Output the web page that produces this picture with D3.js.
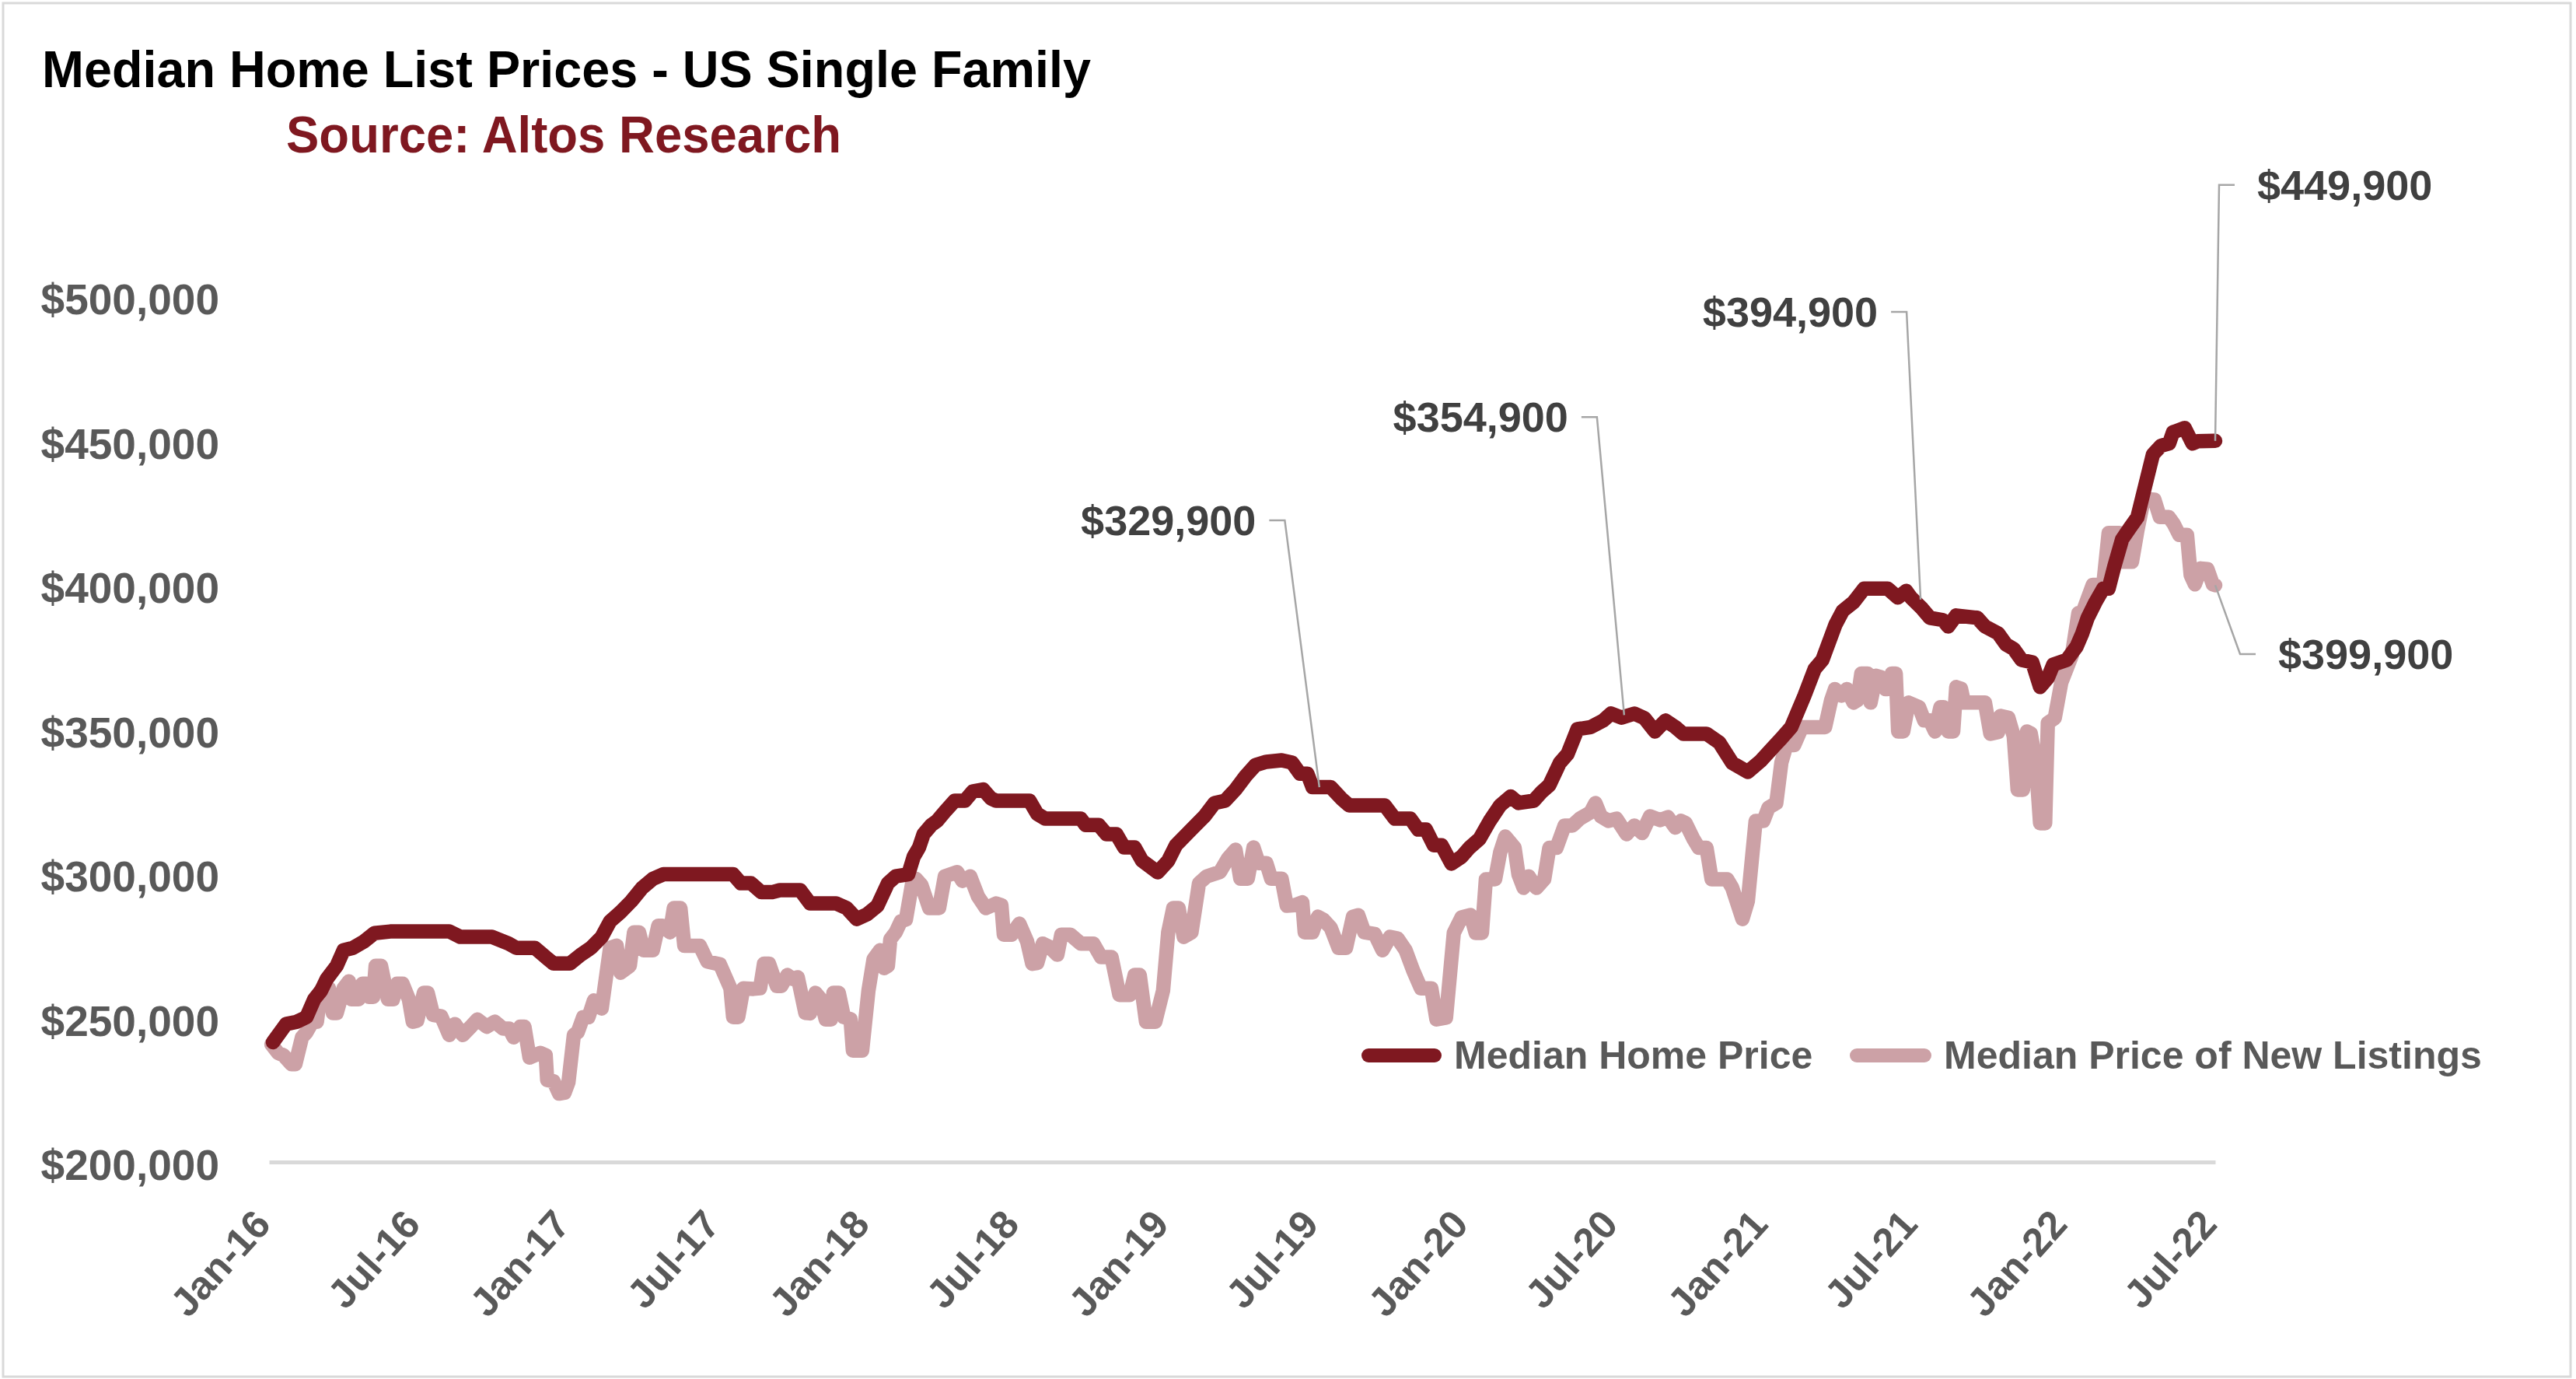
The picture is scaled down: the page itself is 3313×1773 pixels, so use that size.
<!DOCTYPE html>
<html>
<head>
<meta charset="utf-8">
<script src="https://cdn.jsdelivr.net/npm/d3@7"></script>
<style>
  html, body { margin: 0; padding: 0; background: #ffffff; }
  svg { display: block; }
</style>
</head>
<body>
<svg id="chart" width="3313" height="1773"></svg>
<script>
// ---------------- DATA ----------------
const chartTitle = "Median Home List Prices - US Single Family";
const chartSubtitle = "Source: Altos Research";
const seriesNames = ["Median Home Price", "Median Price of New Listings"];
const xTickLabels = ["Jan-16","Jul-16","Jan-17","Jul-17","Jan-18","Jul-18","Jan-19","Jul-19",
                     "Jan-20","Jul-20","Jan-21","Jul-21","Jan-22","Jul-22"];
const yTickValues = [200000, 250000, 300000, 350000, 400000, 450000, 500000];

// [years since Jan 2016, price in $ thousands]
const medianHomePrice = [
[0.013,241.5],[0.057,247.8],[0.093,248.6],[0.125,250.2],[0.151,256.4],[0.174,259.4],[0.192,263.3],[0.226,268],[0.249,273.4],[0.280,274.2],
[0.317,276.4],[0.352,279.3],[0.405,279.9],[0.602,279.9],[0.639,278],[0.745,278],[0.800,275.7],[0.826,274.2],[0.888,274.2],[0.924,271],
[0.950,268.8],[1.005,268.8],[1.041,271.8],[1.075,274.2],[1.111,278],[1.139,283.4],[1.174,286.6],[1.210,290.4],[1.246,295],[1.283,298.2],
[1.317,299.7],[1.550,299.7],[1.576,296.6],[1.610,296.6],[1.644,293.5],[1.680,293.5],[1.706,294.2],[1.774,294.2],[1.807,289.6],[1.894,289.6],
[1.929,288],[1.963,284.2],[1.997,285.8],[2.032,288.8],[2.067,296.6],[2.093,299],[2.135,299.7],[2.153,305.8],[2.171,309],[2.186,313.6],
[2.212,316.8],[2.231,318.2],[2.257,321.4],[2.290,325.2],[2.324,325.2],[2.350,328.4],[2.385,329.1],[2.411,326],[2.428,325.2],[2.540,325.2],
[2.566,320.6],[2.592,319],[2.711,319],[2.727,316.8],[2.771,316.8],[2.797,313.6],[2.830,313.6],[2.856,309],[2.891,309],[2.916,304.4],
[2.968,300.4],[3.003,304.4],[3.029,309.8],[3.080,315.2],[3.124,319.8],[3.158,324.4],[3.193,325.2],[3.228,329.1],[3.262,333.8],[3.295,337.6],
[3.331,338.7],[3.382,339.2],[3.417,338.4],[3.443,334.6],[3.468,334.6],[3.485,329.9],[3.546,329.9],[3.581,326],[3.607,323.6],[3.726,323.6],
[3.760,319],[3.812,319],[3.838,315.2],[3.864,315.2],[3.890,309.8],[3.916,309.8],[3.949,303.4],[3.983,305.8],[4.009,308.9],[4.043,312],
[4.077,318.2],[4.112,323.6],[4.147,326.7],[4.173,324.4],[4.224,325.2],[4.250,328.2],[4.276,330.6],[4.311,338.3],[4.337,341.4],[4.370,350],
[4.414,350.7],[4.456,353],[4.482,355.4],[4.517,354],[4.560,355.4],[4.594,353.8],[4.629,349.2],[4.664,353],[4.697,350.7],[4.723,348.4],
[4.801,348.4],[4.844,345.3],[4.887,338.3],[4.939,335.2],[4.982,339],[5.017,343],[5.051,346.8],[5.084,350.7],[5.128,361.6],[5.162,370.8],
[5.188,374],[5.232,386.3],[5.256,391],[5.292,394],[5.327,398.7],[5.406,398.7],[5.440,395.6],[5.468,397.9],[5.484,395.6],[5.521,391.8],
[5.547,388.6],[5.591,387.8],[5.608,385.6],[5.635,389.4],[5.705,388.6],[5.731,385.6],[5.775,383.2],[5.801,379.4],[5.827,377.8],[5.853,374],
[5.889,373.2],[5.915,364.6],[5.941,367.8],[5.959,372.4],[6.004,374],[6.037,378.6],[6.056,383.2],[6.074,388.6],[6.100,394],[6.126,398.7],
[6.144,398.7],[6.163,406.4],[6.189,415.8],[6.214,419.6],[6.240,423.4],[6.266,434.3],[6.292,445.2],[6.319,448.2],[6.346,449],[6.359,452.9],
[6.398,454.4],[6.424,449],[6.442,449.8],[6.500,449.9]
];

const newListingsPrice = [
[0.008,240.8],[0.030,237.8],[0.048,237],[0.075,233.9],[0.088,233.9],[0.110,243.2],[0.124,244.8],[0.145,248.6],[0.160,248.6],[0.173,259.4],
[0.200,260.2],[0.213,251.6],[0.226,251.6],[0.249,260.2],[0.267,262.6],[0.275,256.4],[0.299,256.4],[0.312,261.8],[0.325,261.8],[0.334,257.2],
[0.348,257.2],[0.356,268],[0.374,268],[0.397,256.4],[0.414,256.4],[0.428,261.8],[0.446,261.8],[0.467,256.4],[0.480,248.6],[0.495,249],
[0.517,258.6],[0.530,258.6],[0.548,251],[0.575,250.5],[0.602,244],[0.621,247.8],[0.647,244],[0.674,246.9],[0.696,249.4],[0.727,246.9],
[0.754,248.6],[0.782,246.2],[0.802,246.2],[0.817,243.2],[0.839,246.9],[0.853,246.9],[0.870,236.2],[0.888,237],[0.906,237.8],[0.924,237],
[0.929,228.4],[0.950,228],[0.969,223.7],[0.987,224],[1.000,227.6],[1.018,244],[1.031,245],[1.049,250.2],[1.067,250.2],[1.085,256],
[1.111,253.2],[1.139,274.2],[1.161,275],[1.174,265.6],[1.205,268],[1.219,279.6],[1.236,279.6],[1.251,273.4],[1.282,273.4],[1.300,281.9],
[1.314,281.9],[1.339,279.6],[1.352,288],[1.374,288],[1.387,274.9],[1.439,274.9],[1.464,269.5],[1.506,268.5],[1.541,260.2],[1.550,250.2],
[1.567,250.2],[1.584,260.2],[1.618,260],[1.640,260.2],[1.653,268.7],[1.670,268.7],[1.696,261],[1.711,261],[1.731,264.8],[1.748,263.5],
[1.766,264],[1.791,251.7],[1.807,251.5],[1.825,258.6],[1.843,256.4],[1.859,249.4],[1.877,249.4],[1.885,258.6],[1.903,258.6],[1.920,250.2],
[1.942,249.5],[1.950,238.6],[1.981,238.6],[2.002,259.4],[2.019,270.3],[2.041,273.4],[2.054,267.2],[2.067,268],[2.075,277.2],[2.093,279.6],
[2.110,283.4],[2.127,284],[2.148,296.6],[2.160,298.2],[2.179,296],[2.205,288],[2.238,288],[2.257,299],[2.298,300.5],[2.316,297.4],
[2.342,299],[2.368,292],[2.394,288],[2.428,289.6],[2.446,289],[2.454,278.8],[2.480,278.8],[2.506,282.6],[2.532,276.4],[2.549,268.7],
[2.566,269],[2.584,275.7],[2.607,274.5],[2.633,271.8],[2.646,278.8],[2.676,278.8],[2.711,275.7],[2.753,275.7],[2.779,271],[2.814,271],
[2.840,257.9],[2.875,257.9],[2.891,264.8],[2.908,264.8],[2.929,248.6],[2.960,248.6],[2.986,259.4],[3.003,279.6],[3.020,288],[3.038,288],
[3.055,278],[3.081,279.6],[3.106,296.6],[3.132,299],[3.176,300.5],[3.202,305.1],[3.228,308.2],[3.244,298.2],[3.269,298.2],[3.288,309],
[3.305,303.6],[3.331,303.6],[3.347,298.2],[3.382,298.2],[3.399,288.8],[3.425,289],[3.451,290],[3.459,279.6],[3.485,279.6],[3.503,285],
[3.521,284],[3.546,281.2],[3.572,274.2],[3.597,274.2],[3.620,285],[3.638,285.5],[3.658,279.6],[3.693,279],[3.719,273.4],[3.744,278],
[3.769,277.5],[3.796,273.4],[3.821,266.4],[3.847,260.2],[3.882,260.2],[3.899,249.4],[3.931,250],[3.957,279.4],[3.983,284.8],[4.013,285.6],
[4.030,279.4],[4.051,279.4],[4.064,298],[4.095,298],[4.112,307.4],[4.129,312.8],[4.160,308.9],[4.173,299.6],[4.190,295],[4.207,299],
[4.233,295],[4.259,298],[4.276,308.9],[4.300,308.9],[4.327,316.6],[4.353,316.6],[4.378,319],[4.414,321.2],[4.430,324.4],[4.448,319.8],
[4.474,318.2],[4.500,319],[4.534,313.6],[4.560,316.6],[4.586,314],[4.612,319.8],[4.646,318.5],[4.672,319.5],[4.697,315.9],[4.716,318.2],
[4.731,317.5],[4.757,312],[4.775,308.9],[4.801,308.9],[4.818,298],[4.870,298],[4.887,295],[4.921,284.2],[4.939,290.4],[4.965,318.2],
[4.991,318.2],[5.008,322.8],[5.034,324.4],[5.051,338.4],[5.068,344.5],[5.094,344.5],[5.120,350.7],[5.197,350.7],[5.217,360],[5.230,363.9],
[5.252,361.6],[5.270,363.9],[5.292,359.2],[5.305,360],[5.318,369.3],[5.339,369.3],[5.349,359.2],[5.367,368.5],[5.383,368],[5.399,363.9],
[5.406,363.9],[5.420,369.3],[5.433,369.3],[5.441,349.2],[5.458,349.2],[5.476,359.2],[5.511,357.6],[5.528,353],[5.547,353],[5.564,349.2],
[5.582,357.6],[5.593,357.6],[5.608,349.2],[5.625,349.2],[5.635,364.6],[5.651,364],[5.661,359.2],[5.731,359.2],[5.749,348.4],[5.775,349],
[5.783,354.6],[5.809,354],[5.827,347.6],[5.840,329],[5.858,329],[5.871,349.2],[5.884,348.5],[5.901,338.4],[5.915,317.4],[5.932,317.4],
[5.941,352.2],[5.964,353.8],[5.986,366.2],[6.021,375.5],[6.043,390.2],[6.056,390.2],[6.091,400],[6.126,400],[6.144,418],[6.179,418],
[6.188,408],[6.222,408],[6.240,418.8],[6.258,428.1],[6.275,429.7],[6.297,429.5],[6.315,423.5],[6.345,423.5],[6.361,421.2],[6.380,417.3],
[6.406,417.3],[6.418,403.4],[6.432,400.2],[6.452,405.7],[6.474,405.5],[6.492,400.2],[6.500,399.9]
];

const annotationLabels = ["$329,900", "$354,900", "$394,900", "$449,900", "$399,900"];
const annotationYears  = [3.508, 4.526, 5.516, 6.5, 6.5];
const annotationValues = [329900, 354900, 394900, 449900, 399900];

// ---------------- LAYOUT / STYLE ----------------
const FONT = "'Liberation Sans', Arial, Helvetica, sans-serif";
const colors = ["#7F1820", "#CCA1A6"];
const annLayout = [
  {dx: -44.5, dy: -343, side: "left"},
  {dx: -35,   dy: -383, side: "left"},
  {dx: -18,   dy: -370, side: "left"},
  {dx: 5,     dy: -329, side: "right"},
  {dx: 32,    dy: 88.6, side: "right"}
];

const svg = d3.select("#chart");

// outer border
svg.append("rect").attr("x", 4).attr("y", 4).attr("width", 3302).attr("height", 1766)
  .attr("fill", "#ffffff").attr("stroke", "#D9D9D9").attr("stroke-width", 3);

const x = d3.scaleLinear().domain([0, 6.5]).range([346, 2849]);
const y = d3.scaleLinear().domain([200000, 500000]).range([1494, 381]);

// title
svg.append("text").attr("x", 54).attr("y", 112)
  .attr("font-family", FONT).attr("font-weight", "bold").attr("font-size", 67)
  .attr("fill", "#000000").attr("textLength", 1349).attr("lengthAdjust", "spacingAndGlyphs")
  .text(chartTitle);
svg.append("text").attr("x", 368).attr("y", 196)
  .attr("font-family", FONT).attr("font-weight", "bold").attr("font-size", 67)
  .attr("fill", colors[0]).attr("textLength", 714).attr("lengthAdjust", "spacingAndGlyphs")
  .text(chartSubtitle);

// y axis (labels only)
const yAxis = d3.axisLeft(y).tickValues(yTickValues).tickFormat(d3.format("$,"))
  .tickSize(0).tickPadding(64);
const gy = svg.append("g").attr("transform", `translate(${x(0)},0)`).call(yAxis);
gy.select(".domain").remove();
gy.attr("font-family", FONT).attr("font-size", 55).attr("font-weight", "bold");
gy.selectAll("text").attr("fill", "#595959").attr("dy", "0.41em");

// x axis
const xAxis = d3.axisBottom(x)
  .tickValues(d3.range(xTickLabels.length).map(i => i * 0.5))
  .tickFormat((d, i) => xTickLabels[i])
  .tickSize(0).tickSizeOuter(0);
const gx = svg.append("g").attr("transform", `translate(0,${y(200000)})`).call(xAxis);
gx.select(".domain").attr("stroke", "#D9D9D9").attr("stroke-width", 5);
gx.attr("font-family", FONT).attr("font-size", 51).attr("font-weight", "bold");
gx.selectAll("text")
  .attr("fill", "#595959")
  .attr("x", 4).attr("y", 82).attr("dy", null)
  .attr("text-anchor", "end")
  .attr("transform", "rotate(-48 4 82)");

// lines
const line = d3.line().x(d => x(d[0])).y(d => y(d[1] * 1000));
const seriesData = [medianHomePrice, newListingsPrice];
[1, 0].forEach(i => {
  svg.append("path").datum(seriesData[i])
    .attr("d", line)
    .attr("fill", "none")
    .attr("stroke", colors[i])
    .attr("stroke-width", 18.5)
    .attr("stroke-linejoin", "round")
    .attr("stroke-linecap", "round");
});

// annotations
annotationLabels.forEach((lab, i) => {
  const tx = x(annotationYears[i]), ty = y(annotationValues[i]);
  const L = annLayout[i];
  const ex = tx + L.dx, ey = ty + L.dy;
  const hx = L.side === "left" ? ex - 20 : ex + 20;
  svg.append("path")
    .attr("d", `M${tx},${ty}L${ex},${ey}L${hx},${ey}`)
    .attr("fill", "none").attr("stroke", "#A6A6A6").attr("stroke-width", 2.5);
  svg.append("text")
    .attr("x", L.side === "left" ? hx - 17 : hx + 29)
    .attr("y", ey + 19)
    .attr("text-anchor", L.side === "left" ? "end" : "start")
    .attr("font-family", FONT).attr("font-weight", "bold").attr("font-size", 54)
    .attr("fill", "#404040")
    .text(lab);
});

// legend
const legendItems = [
  {x1: 1760, x2: 1845, tx: 1870},
  {x1: 2388, x2: 2475, tx: 2500}
];
legendItems.forEach((it, i) => {
  svg.append("line").attr("x1", it.x1).attr("x2", it.x2).attr("y1", 1357).attr("y2", 1357)
    .attr("stroke", colors[i]).attr("stroke-width", 18).attr("stroke-linecap", "round");
  svg.append("text").attr("x", it.tx).attr("y", 1374)
    .attr("font-family", FONT).attr("font-weight", "bold").attr("font-size", 50)
    .attr("fill", "#595959").text(seriesNames[i]);
});
</script>
</body>
</html>
